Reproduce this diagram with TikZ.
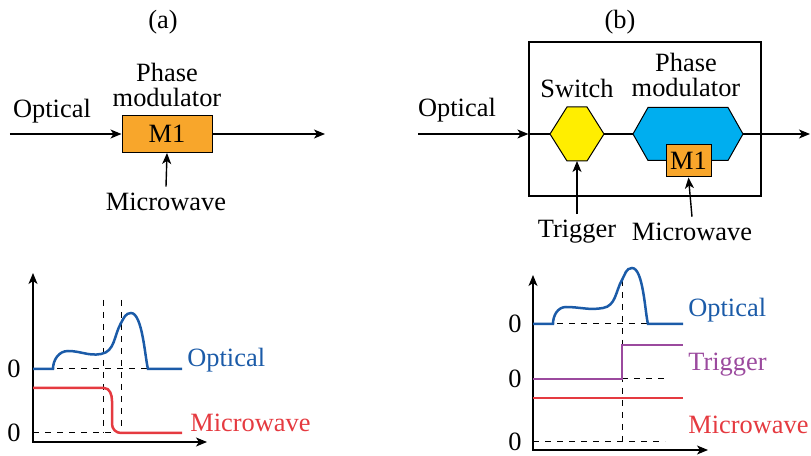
\documentclass[tikz,border=0pt]{standalone}
\usepackage{fontspec}
\setmainfont{Liberation Serif}
\usetikzlibrary{calc,arrows.meta}
\definecolor{optblue}{HTML}{1B5BA8}
\definecolor{mwred}{HTML}{E53A40}
\definecolor{trigpurple}{HTML}{9B4A9E}
\definecolor{pmorange}{HTML}{F8A62B}
\definecolor{swyellow}{HTML}{FFEE00}
\definecolor{pmcyan}{HTML}{00AEEF}
\tikzset{
  txt/.style={font=\fontsize{13.2}{12.5}\selectfont, inner sep=0pt, align=center},
  sig/.style={-{Stealth[length=5.5pt,width=4.5pt,inset=1.5pt]},line width=0.7pt},
  modbox/.style={draw,fill=pmorange,line width=0.5pt},
  hexbox/.style={inner sep=0pt, outer sep=0pt},
  wave/.style={line width=1.25pt},
  guide/.style={dashed,line width=0.5pt},
  axis/.style={{Stealth[length=5.5pt,width=4.5pt,inset=1.5pt]}-{Stealth[length=5.5pt,width=4.5pt,inset=1.5pt]},line width=0.6pt},
}
\begin{document}
\begin{tikzpicture}[x=0.5pt,y=0.5pt]
\useasboundingbox (0,0) rectangle (811,456);
% (a) single modulator
\node[txt] (titleA) at (163,434) {(a)};
\node[txt,modbox,minimum width=45pt,minimum height=18.5pt] (mA) at (167,322) {M1};
\node[txt] (pmA) at (167,371.5) {Phase\\modulator};
\node[txt] (optA) at (52,345) {Optical};
\node[txt] (mwA) at (166,254) {Microwave};
\coordinate (inA) at (10,322);
\coordinate (outA) at (325,322);
\draw[sig] (inA) -- (mA.west);
\draw[sig] (mA.east) -- (outA);
\draw[sig] ([yshift=3pt]mwA.north) -- (mA.south);

% (b) switch + modulator
\node[txt] (titleB) at (620,434) {(b)};
\node[draw,line width=0.6pt,minimum width=116pt,minimum height=77pt] (frame) at (645,337) {};
\node[hexbox,minimum width=27pt,minimum height=27pt] (sw) at (577,322) {};
\draw[fill=swyellow,line width=0.5pt] (sw.west) -- ($(sw.north west)+(17,0)$) -- ($(sw.north east)+(-17,0)$)
  -- (sw.east) -- ($(sw.south east)+(-17,0)$) -- ($(sw.south west)+(17,0)$) -- cycle;
\node[hexbox,minimum width=55pt,minimum height=26.5pt] (pm) at (688,322) {};
\draw[fill=pmcyan,line width=0.5pt] (pm.west) -- ($(pm.north west)+(15,0)$) -- ($(pm.north east)+(-15,0)$)
  -- (pm.east) -- ($(pm.south east)+(-15,0)$) -- ($(pm.south west)+(15,0)$) -- cycle;
\node[txt,modbox,minimum width=22.5pt,minimum height=16pt] (mB) at (688.5,295) {M1};
\node[txt] (swlab) at (577,368) {Switch};
\node[txt] (pmlab) at (686,381) {Phase\\modulator};
\node[txt] (optB) at (457,346) {Optical};
\node[txt] (trig) at (577,224) {Trigger};
\node[txt] (mwB) at (692,224) {Microwave};
\coordinate (inB) at (418,322);
\coordinate (portB) at (frame.west |- inB);
\coordinate (outB) at (810,322);
\draw[sig] (inB) -- (portB);
\draw[line width=0.7pt] (portB) -- (sw.west);
\draw[line width=0.7pt] (sw.east) -- (pm.west);
\draw[sig] (pm.east) -- (outB);
\draw[sig] ([yshift=3pt]trig.north) -- (sw.south);
\draw[sig] ([yshift=3pt]mwB.north) -- (mB.south);

% (a) waveforms
\draw[guide] (103,156) -- (103,23);
\draw[guide] (121,156) -- (121,23);
\draw[guide] (33,87) -- (167,87);
\draw[guide] (33,23) -- (121,23);
\draw[axis] (33,183) -- (33,14) -- (207,14);
\draw[wave,optblue] (33,87) -- (53,87) to[out=90,in=180] (68,105) to[out=0,in=190] (101,102)
  to[out=10,in=240] (121,133) to[out=60,in=180] (131,143) to[out=0,in=105,looseness=0.5] (148,87) -- (182,87);
\draw[wave,mwred] (33,68) -- (104,68) to[out=0,in=90] (112,55) -- (112,32) to[out=-90,in=180] (121,23) -- (182,23);
\node[txt] (zeroA1) at (14,87) {0};
\node[txt] (zeroA2) at (14,23) {0};
\node[txt,anchor=west,text=optblue] (optcA) at (187,96) {Optical};
\node[txt,anchor=west,text=mwred] (mwcA) at (190,33) {Microwave};

% (b) waveforms
\draw[guide] (622,176) -- (622,14);
\draw[guide] (533,132) -- (665,132);
\draw[guide] (622,77) -- (665,77);
\draw[guide] (533,14) -- (665,14);
\draw[axis] (533,181) -- (533,6) -- (708,6);
\draw[wave,optblue] (533,132) -- (553,132) to[out=90,in=180] (566,149) to[out=0,in=190] (603,148)
  to[out=10,in=240] (622,176) to[out=60,in=180] (632,188) to[out=0,in=105,looseness=0.5] (648,132) -- (683,132);
\draw[wave,trigpurple] (533,77) -- (622,77) -- (622,111) -- (683,111);
\draw[wave,mwred] (533,58) -- (683,58);
\node[txt] (zeroB1) at (515,132) {0};
\node[txt] (zeroB2) at (515,77) {0};
\node[txt] (zeroB3) at (515,14) {0};
\node[txt,anchor=west,text=optblue] (optcB) at (688,146) {Optical};
\node[txt,anchor=west,text=trigpurple] (trigcB) at (688,91) {Trigger};
\node[txt,anchor=west,text=mwred] (mwcB) at (688,31) {Microwave};
\end{tikzpicture}
\end{document}
